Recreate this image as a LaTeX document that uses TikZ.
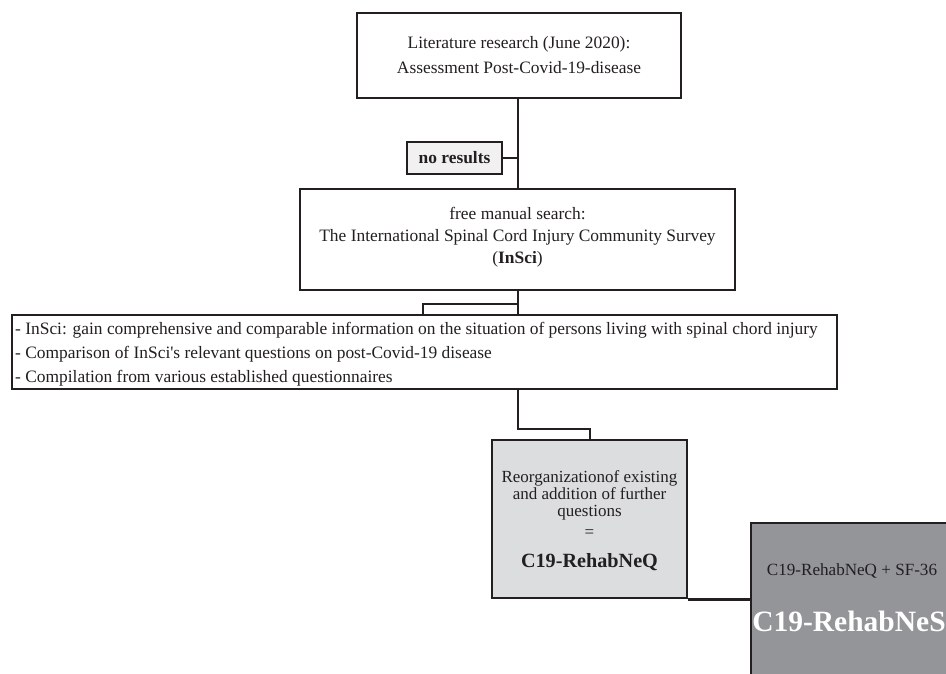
\documentclass[tikz,border=0pt]{standalone}
\usepackage{fontspec}
\setmainfont{Liberation Serif}[Ligatures=TeXOff]
\definecolor{ink}{HTML}{231F20}
\definecolor{nrfill}{HTML}{F1F1F2}
\definecolor{qfill}{HTML}{DCDDDF}
\definecolor{sfill}{HTML}{939598}
\begin{document}
\begin{tikzpicture}[x=1pt,y=-1pt,
  box/.style={draw=ink, line width=2.9pt, rectangle, inner sep=0pt, anchor=center},
  conn/.style={draw=ink, line width=2.9pt},
  txt/.style={text=ink, font=\fontsize{17.4}{24}\selectfont, align=center, inner sep=0pt}
]
\clip (0,0) rectangle (946,674);
\useasboundingbox (0,0) rectangle (946,674);
\fill[white] (0,0) rectangle (946,674);

% box 1
\node[box, minimum width=324pt, minimum height=85pt] (b1) at (519,55.5) {};
\node[txt, font=\fontsize{17.4}{25}\selectfont] (b1t) at (519,55.5) {Literature research (June 2020):\\Assessment Post-Covid-19-disease};

% no results
\node[box, fill=nrfill, minimum width=95pt, minimum height=32pt] (nr) at (454.5,158) {};
\node[txt, font=\fontsize{17.4}{20}\selectfont\bfseries] (nrt) at (454.5,158) {no results};

% box 2
\node[box, minimum width=435pt, minimum height=101pt] (b2) at (517.5,239.5) {};
\node[txt, font=\fontsize{17.4}{22}\selectfont] (b2t) at (517.5,237) {free manual search:\\The International Spinal Cord Injury Community Survey\\(\textbf{InSci})};

% box 3
\node[box, minimum width=825pt, minimum height=74pt] (b3) at (424.5,352) {};
\node[txt, align=left, anchor=west] (b3t) at (15,354) {- InSci: gain comprehensive and comparable information on the situation of persons living with spinal chord injury\\- Comparison of InSci's relevant questions on post-Covid-19 disease\\- Compilation from various established questionnaires};

% box 4
\node[box, fill=qfill, minimum width=195pt, minimum height=158pt] (b4) at (589.5,519) {};
\node[txt, font=\fontsize{17}{17}\selectfont] (b4t) at (589.5,495) {Reorganizationof existing\\and addition of further\\questions};
\node[txt, font=\fontsize{17}{17}\selectfont] (b4eq) at (589.5,534) {=};
\node[txt, font=\fontsize{20.2}{22}\selectfont\bfseries] (b4n) at (589.5,562) {C19-RehabNeQ};

% box 5
\node[box, fill=sfill, minimum width=202pt, minimum height=160pt] (b5) at (852,603) {};
\node[txt, font=\fontsize{17.1}{20}\selectfont] (b5t) at (852,571) {C19-RehabNeQ + SF-36};
\node[txt, font=\fontsize{29.5}{32}\selectfont\bfseries, text=white] (b5n) at (849,621) {C19-RehabNeS};

% connectors
\draw[conn] (b1.south -| 518,0) -- (518,189);
\draw[conn] (nr.east) -- (518,158);
\draw[conn] (518,290) -- (518,315);
\draw[conn] (518,304) -| (423,315);
\draw[conn] (518,389) -- (518,429) -| (590,440);
\draw[conn] (b4.south east) -- (b4.south east -| b5.west);
\end{tikzpicture}
\end{document}
